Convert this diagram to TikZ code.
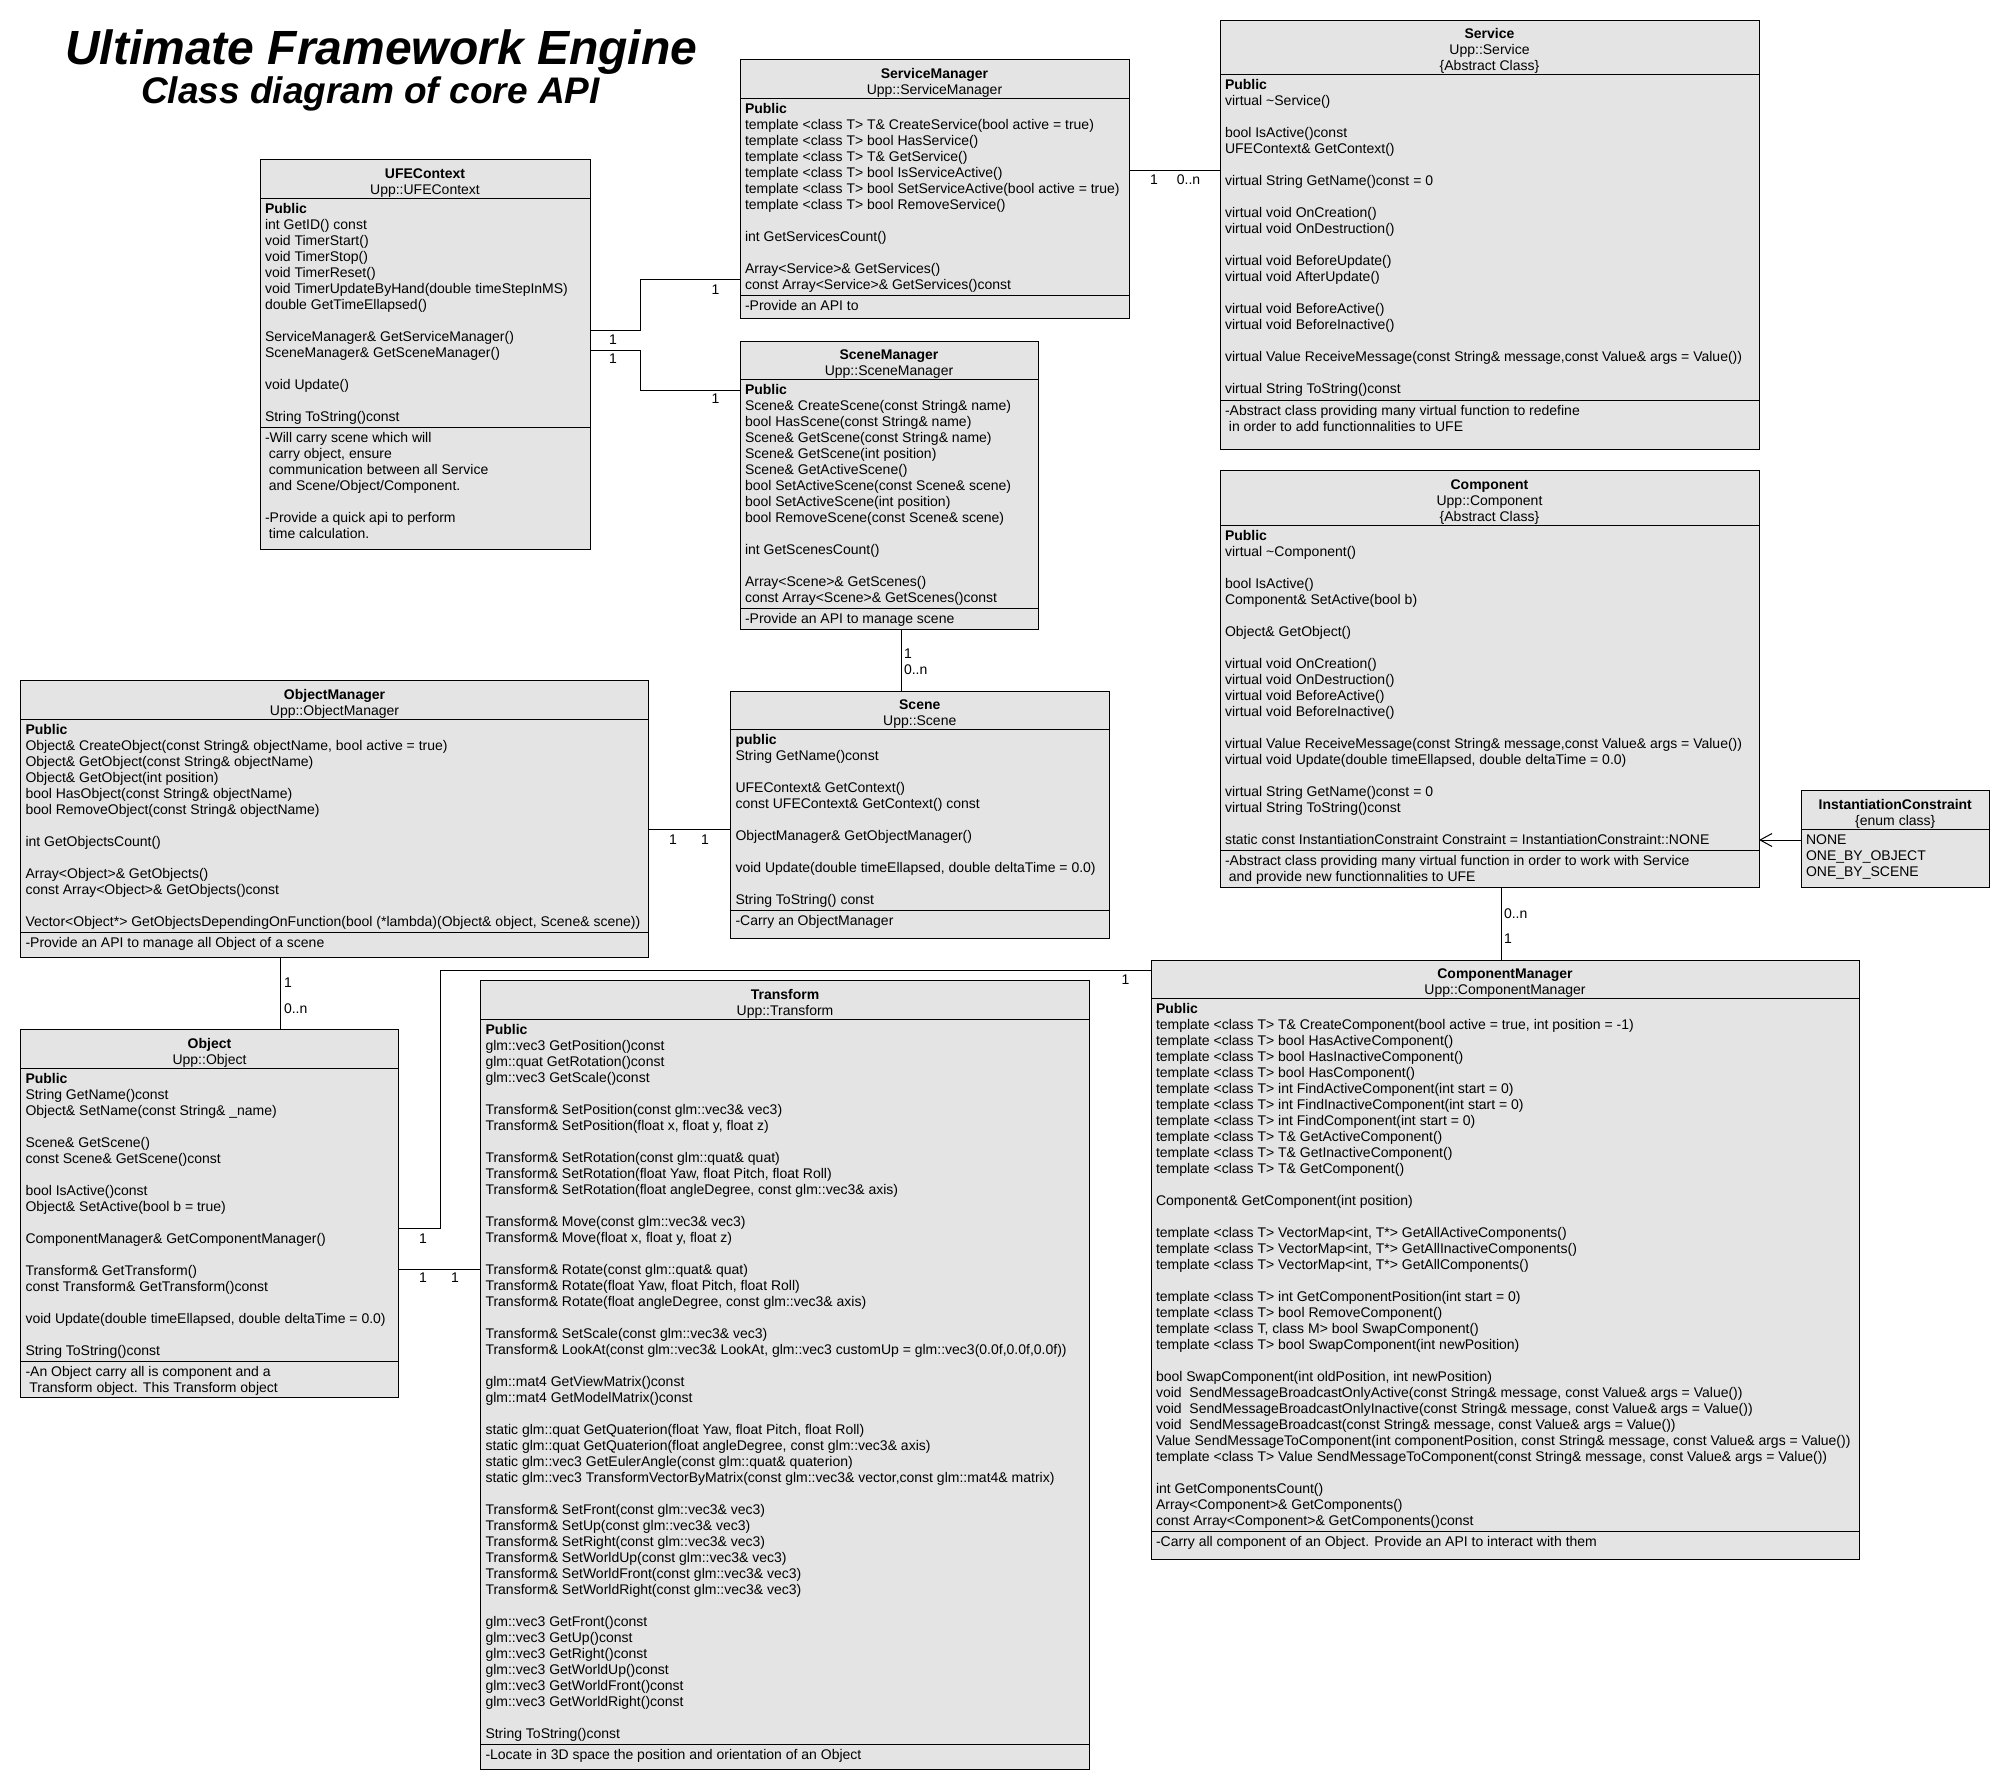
\documentclass[tikz,border=0pt]{standalone}
\usepackage{fontspec}
\setmainfont{Liberation Sans}
\usetikzlibrary{arrows.meta}
\definecolor{boxfill}{RGB}{228,228,228}
\newcommand\Lines[1]{\begin{tabular}[t]{@{}l@{}}#1\end{tabular}}
\newcommand\CLines[1]{\begin{tabular}[t]{@{}c@{}}#1\end{tabular}}
\newcommand\UBox[5]{\node[ubox, minimum width={(#4)-(#2)}, minimum height={(#5)-(#3)}] (#1) at (#2,#3) {};}
\begin{document}
\begin{tikzpicture}[x=1pt,y=-1pt,
  ubox/.style={draw=black, fill=boxfill, line width=1pt, inner sep=0pt, outer sep=0pt, anchor=north west},
  usep/.style={draw=black, line width=1pt},
  utext/.style={inner sep=0pt, outer sep=0pt, font=\fontsize{14}{16}\selectfont},
  hdr/.style={utext, anchor=base, yshift=-1.5pt},
  bdy/.style={utext, anchor=base west},
  mult/.style={utext, anchor=center},
  multw/.style={utext, anchor=west},
  conn/.style={draw=black, line width=1pt}]
\fill[white] (0,0) rectangle (2010,1790);
\useasboundingbox (0,0) rectangle (2010,1790);

% Title
\node[inner sep=0pt, anchor=base west, font=\fontsize{48}{50}\selectfont\bfseries\itshape] (title) at (65,65) {Ultimate Framework Engine};
\node[inner sep=0pt, anchor=base west, font=\fontsize{37}{40}\selectfont\bfseries\itshape] (subtitle) at (141,104) {Class diagram of core API};

% ---------- UFEContext ----------
\UBox{ufe}{260}{160}{590}{549}
\draw[usep] (260,198.5) -- (590,198.5);
\draw[usep] (260,427.5) -- (590,427.5);
\node[hdr] (ufe-h) at (425,177) {\CLines{\textbf{UFEContext}\\Upp::UFEContext}};
\node[bdy] (ufe-b) at (265,213.5) {\Lines{\textbf{Public}\\
int GetID() const\\
void TimerStart()\\
void TimerStop()\\
void TimerReset()\\
void TimerUpdateByHand(double timeStepInMS)\\
double GetTimeEllapsed()\\
\\
ServiceManager\& GetServiceManager()\\
SceneManager\& GetSceneManager()\\
\\
void Update()\\
\\
String ToString()const}};
\node[bdy] (ufe-n) at (265,442.5) {\Lines{-Will carry scene which will\\
\ carry object, ensure\\
\ communication between all Service\\
\ and Scene/Object/Component.\\
\\
-Provide a quick api to perform\\
\ time calculation.}};

% ---------- ServiceManager ----------
\UBox{svcm}{740}{60}{1129}{318}
\draw[usep] (740,98.5) -- (1129,98.5);
\draw[usep] (740,295.5) -- (1129,295.5);
\node[hdr] (svcm-h) at (934.5,77) {\CLines{\textbf{ServiceManager}\\Upp::ServiceManager}};
\node[bdy] (svcm-b) at (745,113.5) {\Lines{\textbf{Public}\\
template <class T> T\& CreateService(bool active = true)\\
template <class T> bool HasService()\\
template <class T> T\& GetService()\\
template <class T> bool IsServiceActive()\\
template <class T> bool SetServiceActive(bool active = true)\\
template <class T> bool RemoveService()\\
\\
int GetServicesCount()\\
\\
Array<Service>\& GetServices()\\
const Array<Service>\& GetServices()const}};
\node[bdy] (svcm-n) at (745,310.5) {\Lines{-Provide an API to}};

% ---------- Service ----------
\UBox{svc}{1220}{20.5}{1759}{449}
\draw[usep] (1220,75) -- (1759,75);
\draw[usep] (1220,400) -- (1759,400);
\node[hdr] (svc-h) at (1489.5,37.5) {\CLines{\textbf{Service}\\Upp::Service\\\{Abstract Class\}}};
\node[bdy] (svc-b) at (1225,90) {\Lines{\textbf{Public}\\
virtual \textasciitilde Service()\\
\\
bool IsActive()const\\
UFEContext\& GetContext()\\
\\
virtual String GetName()const = 0\\
\\
virtual void OnCreation()\\
virtual void OnDestruction()\\
\\
virtual void BeforeUpdate()\\
virtual void AfterUpdate()\\
\\
virtual void BeforeActive()\\
virtual void BeforeInactive()\\
\\
virtual Value ReceiveMessage(const String\& message,const Value\& args = Value())\\
\\
virtual String ToString()const}};
\node[bdy] (svc-n) at (1225,415) {\Lines{-Abstract class providing many virtual function to redefine\\
\ in order to add functionnalities to UFE}};

% ---------- SceneManager ----------
\UBox{scm}{740}{341}{1038}{629.5}
\draw[usep] (740,379.5) -- (1038,379.5);
\draw[usep] (740,608.5) -- (1038,608.5);
\node[hdr] (scm-h) at (889,358) {\CLines{\textbf{SceneManager}\\Upp::SceneManager}};
\node[bdy] (scm-b) at (745,394.5) {\Lines{\textbf{Public}\\
Scene\& CreateScene(const String\& name)\\
bool HasScene(const String\& name)\\
Scene\& GetScene(const String\& name)\\
Scene\& GetScene(int position)\\
Scene\& GetActiveScene()\\
bool SetActiveScene(const Scene\& scene)\\
bool SetActiveScene(int position)\\
bool RemoveScene(const Scene\& scene)\\
\\
int GetScenesCount()\\
\\
Array<Scene>\& GetScenes()\\
const Array<Scene>\& GetScenes()const}};
\node[bdy] (scm-n) at (745,623.5) {\Lines{-Provide an API to manage scene}};

% ---------- Component ----------
\UBox{cmp}{1220}{470.5}{1759}{887}
\draw[usep] (1220,525) -- (1759,525);
\draw[usep] (1220,850) -- (1759,850);
\node[hdr] (cmp-h) at (1489.5,487.5) {\CLines{\textbf{Component}\\Upp::Component\\\{Abstract Class\}}};
\node[bdy] (cmp-b) at (1225,540) {\Lines{\textbf{Public}\\
virtual \textasciitilde Component()\\
\\
bool IsActive()\\
Component\& SetActive(bool b)\\
\\
Object\& GetObject()\\
\\
virtual void OnCreation()\\
virtual void OnDestruction()\\
virtual void BeforeActive()\\
virtual void BeforeInactive()\\
\\
virtual Value ReceiveMessage(const String\& message,const Value\& args = Value())\\
virtual void Update(double timeEllapsed, double deltaTime = 0.0)\\
\\
virtual String GetName()const = 0\\
virtual String ToString()const\\
\\
static const InstantiationConstraint Constraint = InstantiationConstraint::NONE}};
\node[bdy] (cmp-n) at (1225,865) {\Lines{-Abstract class providing many virtual function in order to work with Service\\
\ and provide new functionnalities to UFE}};

% ---------- InstantiationConstraint ----------
\UBox{ic}{1801}{790.5}{1989.5}{887}
\draw[usep] (1801,829) -- (1989.5,829);
\node[hdr] (ic-h) at (1895.25,807.5) {\CLines{\textbf{InstantiationConstraint}\\\{enum class\}}};
\node[bdy] (ic-b) at (1806,844) {\Lines{NONE\\ONE\_BY\_OBJECT\\ONE\_BY\_SCENE}};

% ---------- ObjectManager ----------
\UBox{om}{20.5}{680.5}{648.5}{957.5}
\draw[usep] (20.5,719) -- (648.5,719);
\draw[usep] (20.5,932) -- (648.5,932);
\node[hdr] (om-h) at (334.5,697.5) {\CLines{\textbf{ObjectManager}\\Upp::ObjectManager}};
\node[bdy] (om-b) at (25.5,734) {\Lines{\textbf{Public}\\
Object\& CreateObject(const String\& objectName, bool active = true)\\
Object\& GetObject(const String\& objectName)\\
Object\& GetObject(int position)\\
bool HasObject(const String\& objectName)\\
bool RemoveObject(const String\& objectName)\\
\\
int GetObjectsCount()\\
\\
Array<Object>\& GetObjects()\\
const Array<Object>\& GetObjects()const\\
\\
Vector<Object*> GetObjectsDependingOnFunction(bool (*lambda)(Object\& object, Scene\& scene))}};
\node[bdy] (om-n) at (25.5,947) {\Lines{-Provide an API to manage all Object of a scene}};

% ---------- Scene ----------
\UBox{sc}{730.5}{691}{1109}{938.5}
\draw[usep] (730.5,729.5) -- (1109,729.5);
\draw[usep] (730.5,910.5) -- (1109,910.5);
\node[hdr] (sc-h) at (919.75,708) {\CLines{\textbf{Scene}\\Upp::Scene}};
\node[bdy] (sc-b) at (735.5,744.5) {\Lines{\textbf{public}\\
String GetName()const\\
\\
UFEContext\& GetContext()\\
const UFEContext\& GetContext() const\\
\\
ObjectManager\& GetObjectManager()\\
\\
void Update(double timeEllapsed, double deltaTime = 0.0)\\
\\
String ToString() const}};
\node[bdy] (sc-n) at (735.5,925.5) {\Lines{-Carry an ObjectManager}};

% ---------- Object ----------
\UBox{ob}{20.5}{1029.5}{398.5}{1397.5}
\draw[usep] (20.5,1068) -- (398.5,1068);
\draw[usep] (20.5,1361) -- (398.5,1361);
\node[hdr] (ob-h) at (209.5,1046.5) {\CLines{\textbf{Object}\\Upp::Object}};
\node[bdy] (ob-b) at (25.5,1083) {\Lines{\textbf{Public}\\
String GetName()const\\
Object\& SetName(const String\& \_name)\\
\\
Scene\& GetScene()\\
const Scene\& GetScene()const\\
\\
bool IsActive()const\\
Object\& SetActive(bool b = true)\\
\\
ComponentManager\& GetComponentManager()\\
\\
Transform\& GetTransform()\\
const Transform\& GetTransform()const\\
\\
void Update(double timeEllapsed, double deltaTime = 0.0)\\
\\
String ToString()const}};
\node[bdy] (ob-n) at (25.5,1376) {\Lines{-An Object carry all is component and a\\
\ Transform object. This Transform object}};

% ---------- Transform ----------
\UBox{tr}{480.5}{980.5}{1089.5}{1769}
\draw[usep] (480.5,1019) -- (1089.5,1019);
\draw[usep] (480.5,1744) -- (1089.5,1744);
\node[hdr] (tr-h) at (785,997.5) {\CLines{\textbf{Transform}\\Upp::Transform}};
\node[bdy] (tr-b) at (485.5,1034) {\Lines{\textbf{Public}\\
glm::vec3 GetPosition()const\\
glm::quat GetRotation()const\\
glm::vec3 GetScale()const\\
\\
Transform\& SetPosition(const glm::vec3\& vec3)\\
Transform\& SetPosition(float x, float y, float z)\\
\\
Transform\& SetRotation(const glm::quat\& quat)\\
Transform\& SetRotation(float Yaw, float Pitch, float Roll)\\
Transform\& SetRotation(float angleDegree, const glm::vec3\& axis)\\
\\
Transform\& Move(const glm::vec3\& vec3)\\
Transform\& Move(float x, float y, float z)\\
\\
Transform\& Rotate(const glm::quat\& quat)\\
Transform\& Rotate(float Yaw, float Pitch, float Roll)\\
Transform\& Rotate(float angleDegree, const glm::vec3\& axis)\\
\\
Transform\& SetScale(const glm::vec3\& vec3)\\
Transform\& LookAt(const glm::vec3\& LookAt, glm::vec3 customUp = glm::vec3(0.0f,0.0f,0.0f))\\
\\
glm::mat4 GetViewMatrix()const\\
glm::mat4 GetModelMatrix()const\\
\\
static glm::quat GetQuaterion(float Yaw, float Pitch, float Roll)\\
static glm::quat GetQuaterion(float angleDegree, const glm::vec3\& axis)\\
static glm::vec3 GetEulerAngle(const glm::quat\& quaterion)\\
static glm::vec3 TransformVectorByMatrix(const glm::vec3\& vector,const glm::mat4\& matrix)\\
\\
Transform\& SetFront(const glm::vec3\& vec3)\\
Transform\& SetUp(const glm::vec3\& vec3)\\
Transform\& SetRight(const glm::vec3\& vec3)\\
Transform\& SetWorldUp(const glm::vec3\& vec3)\\
Transform\& SetWorldFront(const glm::vec3\& vec3)\\
Transform\& SetWorldRight(const glm::vec3\& vec3)\\
\\
glm::vec3 GetFront()const\\
glm::vec3 GetUp()const\\
glm::vec3 GetRight()const\\
glm::vec3 GetWorldUp()const\\
glm::vec3 GetWorldFront()const\\
glm::vec3 GetWorldRight()const\\
\\
String ToString()const}};
\node[bdy] (tr-n) at (485.5,1759) {\Lines{-Locate in 3D space the position and orientation of an Object}};

% ---------- ComponentManager ----------
\UBox{cm}{1151}{960}{1859}{1559}
\draw[usep] (1151,998.5) -- (1859,998.5);
\draw[usep] (1151,1531.5) -- (1859,1531.5);
\node[hdr] (cm-h) at (1505,977) {\CLines{\textbf{ComponentManager}\\Upp::ComponentManager}};
\node[bdy] (cm-b) at (1156,1013.5) {\Lines{\textbf{Public}\\
template <class T> T\& CreateComponent(bool active = true, int position = -1)\\
template <class T> bool HasActiveComponent()\\
template <class T> bool HasInactiveComponent()\\
template <class T> bool HasComponent()\\
template <class T> int FindActiveComponent(int start = 0)\\
template <class T> int FindInactiveComponent(int start = 0)\\
template <class T> int FindComponent(int start = 0)\\
template <class T> T\& GetActiveComponent()\\
template <class T> T\& GetInactiveComponent()\\
template <class T> T\& GetComponent()\\
\\
Component\& GetComponent(int position)\\
\\
template <class T> VectorMap<int, T*> GetAllActiveComponents()\\
template <class T> VectorMap<int, T*> GetAllInactiveComponents()\\
template <class T> VectorMap<int, T*> GetAllComponents()\\
\\
template <class T> int GetComponentPosition(int start = 0)\\
template <class T> bool RemoveComponent()\\
template <class T, class M> bool SwapComponent()\\
template <class T> bool SwapComponent(int newPosition)\\
\\
bool SwapComponent(int oldPosition, int newPosition)\\
void\ \ SendMessageBroadcastOnlyActive(const String\& message, const Value\& args = Value())\\
void\ \ SendMessageBroadcastOnlyInactive(const String\& message, const Value\& args = Value())\\
void\ \ SendMessageBroadcast(const String\& message, const Value\& args = Value())\\
Value SendMessageToComponent(int componentPosition, const String\& message, const Value\& args = Value())\\
template <class T> Value SendMessageToComponent(const String\& message, const Value\& args = Value())\\
\\
int GetComponentsCount()\\
Array<Component>\& GetComponents()\\
const Array<Component>\& GetComponents()const}};
\node[bdy] (cm-n) at (1156,1546.5) {\Lines{-Carry all component of an Object. Provide an API to interact with them}};

% ---------- Connectors ----------
\coordinate (c1a) at (640,330.5);
\coordinate (c1b) at (640,279.5);
\draw[conn] (ufe.east |- c1a) -- (c1a) -- (c1b) -- (svcm.west |- c1b);
\node[mult] (m1a) at (613,340) {1};
\node[mult] (m1b) at (715.5,290) {1};

\coordinate (c2a) at (640,350);
\coordinate (c2b) at (640,390);
\draw[conn] (ufe.east |- c2a) -- (c2a) -- (c2b) -- (scm.west |- c2b);
\node[mult] (m2a) at (613,359) {1};
\node[mult] (m2b) at (715.5,399) {1};

\coordinate (c3) at (1170,170.5);
\draw[conn] (svcm.east |- c3) -- (svc.west |- c3);
\node[mult] (m3a) at (1154,180) {1};
\node[mult] (m3b) at (1188.5,180) {0..n};

\coordinate (c4) at (901,660);
\draw[conn] (scm.south -| c4) -- (sc.north -| c4);
\node[multw] (m4a) at (904,654) {1};
\node[multw] (m4b) at (904,669.5) {0..n};

\coordinate (c5) at (690,829.5);
\draw[conn] (om.east |- c5) -- (sc.west |- c5);
\node[mult] (m5a) at (673,840) {1};
\node[mult] (m5b) at (705,840) {1};

\coordinate (c6) at (280.5,990);
\draw[conn] (om.south -| c6) -- (ob.north -| c6);
\node[multw] (m6a) at (284,983) {1};
\node[multw] (m6b) at (284,1009) {0..n};

\coordinate (c7) at (1780,840);
\draw[conn, -{Straight Barb[length=12pt,width=13pt]}] (ic.west |- c7) -- (cmp.east |- c7);

\coordinate (c8) at (1501,920);
\draw[conn] (cmp.south -| c8) -- (cm.north -| c8);
\node[multw] (m8a) at (1504,914) {0..n};
\node[multw] (m8b) at (1504,938.5) {1};

\coordinate (c9a) at (440,1228);
\coordinate (c9b) at (440,970.5);
\draw[conn] (ob.east |- c9a) -- (c9a) -- (c9b) -- (cm.west |- c9b);
\node[mult] (m9a) at (423,1238.5) {1};
\node[mult] (m9b) at (1125.5,979.5) {1};

\coordinate (c10) at (440,1269);
\draw[conn] (ob.east |- c10) -- (tr.west |- c10);
\node[mult] (m10a) at (423,1278) {1};
\node[mult] (m10b) at (455,1278) {1};
\end{tikzpicture}
\end{document}
